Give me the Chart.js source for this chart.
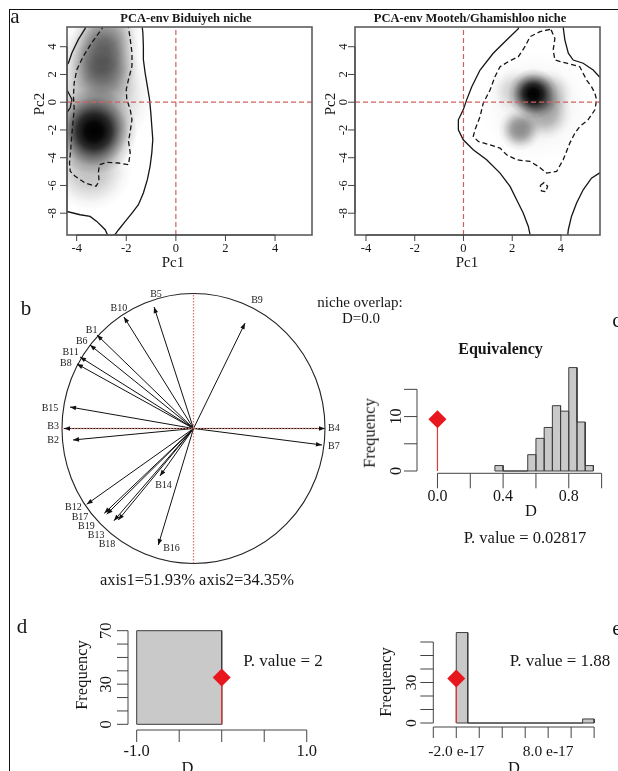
<!DOCTYPE html>
<html>
<head>
<meta charset="utf-8">
<title>Niche comparison: Biduiyeh vs Mooteh/Ghamishloo</title>
<script src="https://cdn.jsdelivr.net/npm/chart.js@4.4.1/dist/chart.umd.min.js"></script>
<style>
  html, body { margin: 0; padding: 0; background: #fff; }
  #page { position: relative; width: 618px; height: 771px; overflow: hidden;
          font-family: "Liberation Serif", "DejaVu Serif", serif; color: #161616; }
  #page canvas { position: absolute; left: 0; top: 0; }
  .frame { position: absolute; left: 9px; top: 9px; width: 700px; height: 800px;
           border-top: 1px solid #111; border-left: 1px solid #111; }
  .t { position: absolute; white-space: nowrap; line-height: 1; transform: translate(-50%, -50%); }
  .v { transform: translate(-50%, -50%) rotate(-90deg); }
  .b { font-weight: bold; }
</style>
</head>
<body>
<div id="page">
  <div class="frame"></div>
  <canvas id="pcaBid" width="618" height="771"></canvas>
  <canvas id="pcaMoo" width="618" height="771"></canvas>
  <canvas id="corCircle" width="618" height="771"></canvas>
  <canvas id="histEq" width="618" height="771"></canvas>
  <canvas id="histD" width="618" height="771"></canvas>
  <canvas id="histE" width="618" height="771"></canvas>

  <div class="t" style="left:15px;top:16px;font-size:21px">a</div>
  <div class="t b" style="left:186px;top:17.5px;font-size:12.5px">PCA-env Biduiyeh niche</div>
  <div class="t b" style="left:470px;top:17.5px;font-size:12.5px">PCA-env Mooteh/Ghamishloo niche</div>
  <div class="t" style="left:173px;top:262px;font-size:15px">Pc1</div>
  <div class="t" style="left:467px;top:262px;font-size:15px">Pc1</div>
  <div class="t v" style="left:39px;top:104px;font-size:15px">Pc2</div>
  <div class="t v" style="left:330px;top:104px;font-size:15px">Pc2</div>

  <div class="t" style="left:26px;top:308px;font-size:21px">b</div>
  <div class="t" style="left:360px;top:302px;font-size:15px">niche overlap:</div>
  <div class="t" style="left:361px;top:317.5px;font-size:15px">D=0.0</div>
  <div class="t" style="left:197px;top:579.5px;font-size:16.5px">axis1=51.93% axis2=34.35%</div>

  <div class="t" style="left:617px;top:320px;font-size:21px">c</div>
  <div class="t b" style="left:500.5px;top:348.5px;font-size:16px">Equivalency</div>
  <div class="t v" style="left:370px;top:433px;font-size:16.5px">Frequency</div>
  <div class="t" style="left:531px;top:511px;font-size:16.5px">D</div>
  <div class="t" style="left:525px;top:537.5px;font-size:16.5px">P. value = 0.02817</div>

  <div class="t" style="left:22px;top:626px;font-size:21px">d</div>
  <div class="t v" style="left:82px;top:675px;font-size:16.5px">Frequency</div>
  <div class="t" style="left:283px;top:660px;font-size:17px">P. value = 2</div>
  <div class="t" style="left:187.5px;top:768px;font-size:16.5px">D</div>

  <div class="t" style="left:617px;top:628px;font-size:21px">e</div>
  <div class="t v" style="left:385.5px;top:682px;font-size:16.5px">Frequency</div>
  <div class="t" style="left:560px;top:660px;font-size:17px">P. value = 1.88</div>
  <div class="t" style="left:514px;top:768px;font-size:16.5px">D</div>
</div>

<script>
const W = 618, H = 771;

// ---------- a: PCA-env niche densities ----------
const pcTicksX = [-4, -2, 0, 2, 4];
const pcTicksY = [-8, -6, -4, -2, 0, 2, 4];

// density peaks: centre (Pc1, Pc2), spread in Pc1 units, darkness 0..1
const bidPeakX = [-3.3, -3.0, -2.9, -3.1, -3.45, -2.75];
const bidPeakY = [-2.1, 3.4, 2.0, 0.4, -4.8, 5.1];
const bidPeakSpread = [1.75, 1.6, 1.5, 2.2, 1.7, 1.4];
const bidPeakDark = [1.0, 0.5, 0.3, 0.28, 0.24, 0.3];

const mooPeakX = [2.86, 3.5, 3.35, 2.32, 2.1, 3.0];
const mooPeakY = [0.6, 0.6, -0.8, -1.95, 0.8, -0.3];
const mooPeakSpread = [1.05, 1.0, 1.1, 0.9, 1.0, 2.3];
const mooPeakDark = [1.0, 0.25, 0.3, 0.42, 0.15, 0.07];

// contour lines (Pc1, Pc2)
const bidOuterRight = [[-1.37,5.6],[-1.33,5.01],[-1.31,4.04],[-1.31,3.08],[-1.24,2.12],[-1.15,1.16],[-1.06,0.19],[-1.01,-0.77],[-0.97,-1.73],[-0.93,-2.69],[-0.97,-3.65],[-1.04,-4.62],[-1.15,-5.58],[-1.31,-6.54],[-1.51,-7.39],[-1.77,-7.99],[-2.04,-8.59],[-2.31,-9.19],[-2.52,-9.7]];
const bidOuterBottom = [[-4.6,-7.85],[-4.4,-7.87],[-3.86,-8.11],[-3.46,-8.23],[-3.19,-8.59],[-2.85,-9.19],[-2.72,-9.7]];
const bidOuterTop = [[-3.62,5.6],[-3.66,5.3],[-3.93,4.53],[-4.19,3.57],[-4.33,2.84],[-4.6,2.3]];
const bidOuterBump = [[-4.6,1.1],[-4.4,0.92],[-4.19,0.19],[-4.26,-0.4],[-4.4,-0.77],[-4.6,-0.9]];
const bidInner = [[-2.92,5.6],[-2.98,5.3],[-3.39,4.29],[-3.73,3.32],[-3.99,2.36],[-4.1,1.4],[-4.13,0.43],[-4.1,-0.53],[-4.15,-1.49],[-4.2,-2.45],[-4.24,-3.42],[-4.29,-4.38],[-4.26,-4.98],[-4.06,-5.34],[-3.66,-5.82],[-3.22,-6.06],[-3.1,-5.7],[-3.12,-4.98],[-3.08,-4.5],[-2.78,-4.33],[-2.31,-4.38],[-1.91,-4.5],[-1.84,-3.65],[-1.91,-2.82],[-1.84,-2.09],[-1.77,-1.25],[-1.84,-0.53],[-1.98,0.19],[-2.0,0.92],[-1.91,1.64],[-1.77,2.6],[-1.77,3.57],[-1.84,4.53],[-1.91,5.37],[-1.93,5.6]];

const mooOuterMain = [[2.27,5.6],[2.25,5.3],[1.77,4.48],[1.22,3.53],[0.68,2.32],[0.34,1.12],[0.13,0.17],[-0.01,-0.55],[-0.21,-1.27],[-0.21,-1.99],[-0.01,-2.71],[0.4,-3.43],[0.95,-4.15],[1.5,-5.11],[1.91,-6.07],[2.18,-7.03],[2.45,-7.99],[2.66,-8.95],[2.75,-9.7]];
const mooOuterTop = [[4.08,5.6],[4.09,5.4],[4.16,4.48],[4.3,3.53],[4.5,3.04],[4.91,2.81],[5.32,2.32],[5.57,1.84],[5.75,1.7]];
const mooOuterBottom = [[5.75,-5.0],[5.57,-5.11],[5.25,-5.47],[4.91,-6.31],[4.64,-7.27],[4.43,-8.23],[4.3,-9.19],[4.27,-9.7]];
const mooInner = [[3.55,5.25],[3.14,5.08],[2.73,4.72],[2.52,4.0],[2.25,3.28],[1.84,2.92],[1.5,2.56],[1.29,1.84],[1.09,0.88],[0.81,-0.07],[0.68,-1.04],[0.47,-1.99],[0.4,-2.47],[0.61,-2.83],[1.22,-3.14],[1.5,-3.31],[1.77,-3.79],[2.18,-4.15],[2.73,-4.27],[3.07,-4.63],[3.41,-5.11],[3.82,-4.99],[4.09,-4.15],[4.36,-2.95],[4.57,-2.23],[4.77,-1.75],[5.11,-1.27],[5.39,-0.55],[5.46,0.17],[5.39,0.65],[5.25,1.12],[5.05,1.6],[4.77,2.56],[4.23,2.81],[3.75,3.04],[3.68,3.76],[3.75,4.6],[3.61,5.15],[3.55,5.25]];
const mooInnerIsland = [[3.15,-6.0],[3.3,-5.8],[3.45,-6.05],[3.38,-6.45],[3.2,-6.4],[3.15,-6.0]];

// ---------- b: correlation circle ----------
const varNames = ['B1','B2','B3','B4','B5','B6','B7','B8','B9','B10','B11','B12','B13','B14','B15','B16','B17','B18','B19'];
const varAxis1 = [-0.734,-0.916,-0.985,1.0,-0.30,-0.787,0.977,-0.886,0.392,-0.529,-0.863,-0.812,-0.572,-0.255,-0.939,-0.268,-0.678,-0.66,-0.605];
const varAxis2 = [0.693,-0.085,0.0,0.0,0.90,0.619,-0.122,0.478,0.781,0.826,0.53,-0.561,-0.678,-0.352,0.159,-0.863,-0.628,-0.635,-0.683];
const varLabelAxis1 = [-0.775,-1.068,-1.068,1.068,-0.285,-0.85,1.068,-0.97,0.483,-0.567,-0.935,-0.913,-0.741,-0.228,-1.091,-0.167,-0.863,-0.658,-0.814];
const varLabelAxis2 = [0.724,-0.09,0.013,0.0,0.996,0.643,-0.13,0.485,0.947,0.893,0.561,-0.581,-0.789,-0.419,0.15,-0.885,-0.656,-0.856,-0.722];

// ---------- c: equivalency test ----------
const eqBreaks = [0.35,0.40,0.45,0.50,0.55,0.60,0.65,0.70,0.75,0.80,0.85,0.90,0.95];
const eqCounts = [1,0,0,0,3,6,8,12,11,19,9,1];
const eqObserved = 0.0, eqObservedY = 9.5;
const eqTicksX = [0, 0.2, 0.4, 0.6, 0.8, 1.0];
const eqLabelsX = ['0.0', '', '0.4', '', '0.8', ''];
const eqTicksY = [0, 5, 10, 15];
const eqLabelsY = ['0', '', '10', ''];

// ---------- d ----------
const dBreaks = [-1, 0];
const dCounts = [70];
const dObserved = 0, dObservedY = 35;
const dTicksX = [-1, -0.5, 0, 0.5, 1];
const dLabelsX = ['-1.0', '', '', '', '1.0'];
const dTicksY = [0, 10, 20, 30, 40, 50, 60, 70];
const dLabelsY = ['0', '', '', '30', '', '', '', '70'];

// ---------- e (D in units of 1e-17) ----------
const eBreaks = [-2,-0.75,0.5,1.75,3,4.25,5.5,6.75,8,9.25,10.5,11.75,13];
const eCounts = [67,0,0,0,0,0,0,0,0,0,0,3];
const eObserved = -2, eObservedY = 33;
const eTicksX = [-4.5, -2, 0.5, 3, 5.5, 8, 10.5, 13];
const eLabelsX = ['', '-2.0 e-17', '', '', '', '8.0 e-17', '', ''];
const eTicksY = [0, 10, 20, 30, 40, 50, 60];
const eLabelsY = ['0', '', '', '30', '', '', ''];

// ================= helpers =================
const SERIF = '"Liberation Serif", "DejaVu Serif", serif';
const RED = '#e8171d';

function pts(pairs) { return pairs.map(([x, y]) => ({ x, y })); }

function line(pairs, color, width, dash, order) {
  return { data: pts(pairs), showLine: true, borderColor: color, borderWidth: width,
           borderDash: dash || [], pointRadius: 0, fill: false, clip: 0, order: order || 0 };
}

const PROFILE = [[0, 1], [0.2, 0.97], [0.4, 0.8], [0.6, 0.45], [0.8, 0.14], [1, 0]];
function unitPx(scale) { return scale.getPixelForValue(1) - scale.getPixelForValue(0); }

function densityLayer(px, py, spread, dark) {
  return {
    data: px.map((x, i) => ({ x, y: py[i] })),
    order: 9, clip: 0, pointStyle: 'circle', pointBorderWidth: 0,
    pointRadius: c => {
      if (c.dataIndex === undefined) return 0;
      const r = spread[c.dataIndex] * unitPx(c.chart.scales.x);
      return isFinite(r) ? r : 0;
    },
    pointBackgroundColor: c => {
      if (c.dataIndex === undefined || !c.raw) return 'rgba(0,0,0,0)';
      const sx = c.chart.scales.x, sy = c.chart.scales.y;
      const cx = sx.getPixelForValue(c.raw.x), cy = sy.getPixelForValue(c.raw.y);
      const r = spread[c.dataIndex] * unitPx(sx);
      if (![cx, cy, r].every(isFinite) || r <= 0) return 'rgba(0,0,0,0)';
      const g = c.chart.ctx.createRadialGradient(cx, cy, 0, cx, cy, r);
      PROFILE.forEach(([s, k]) => g.addColorStop(s, `rgba(0,0,0,${(dark[c.dataIndex] * k).toFixed(3)})`));
      return g;
    }
  };
}

function histOutline(breaks, counts) {
  const out = [];
  counts.forEach((n, i) => out.push([breaks[i], 0], [breaks[i], n], [breaks[i + 1], n], [breaks[i + 1], 0]));
  return out;
}

function histDatasets(breaks, counts, obsX, obsY) {
  return [
    { data: pts(histOutline(breaks, counts)), showLine: true, fill: 'origin',
      backgroundColor: '#c9c9c9', borderColor: '#3c3c3c', borderWidth: 1,
      pointRadius: 0, clip: false, order: 3 },
    line([[breaks[0], 0], [breaks[breaks.length - 1], 0]], '#3c3c3c', 1, null, 2),
    line([[obsX, 0], [obsX, obsY]], '#e03a36', 1.2, null, 1),
    { data: [{ x: obsX, y: obsY }], pointStyle: 'rectRot', pointRadius: 9,
      pointBackgroundColor: RED, pointBorderWidth: 0, clip: false, order: 0 }
  ];
}

// R-like axes: lines only across the tick range, outward ticks, y labels rotated
function rAxes(cfg) {
  return {
    id: 'rAxes',
    afterDraw(chart) {
      const { ctx, chartArea: a, scales } = chart;
      ctx.save();
      if (cfg.box) {
        ctx.strokeStyle = '#5c5c5c'; ctx.lineWidth = 1.6;
        ctx.strokeRect(a.left, a.top, a.right - a.left, a.bottom - a.top);
      }
      ctx.strokeStyle = '#444'; ctx.fillStyle = '#151515'; ctx.lineWidth = 1;
      ctx.font = cfg.font; ctx.textAlign = 'center'; ctx.textBaseline = 'middle';

      const xs = cfg.xTicks.map(v => scales.x.getPixelForValue(v));
      const yb = a.bottom;
      ctx.beginPath();
      ctx.moveTo(xs[0], yb); ctx.lineTo(xs[xs.length - 1], yb);
      xs.forEach(p => { ctx.moveTo(p, yb); ctx.lineTo(p, yb + cfg.xTick); });
      ctx.stroke();
      cfg.xLabels.forEach((t, i) => { if (t) ctx.fillText(t, xs[i], yb + cfg.xLab); });

      const ys = cfg.yTicks.map(v => scales.y.getPixelForValue(v));
      const xl = a.left;
      ctx.beginPath();
      ctx.moveTo(xl, ys[0]); ctx.lineTo(xl, ys[ys.length - 1]);
      ys.forEach(p => { ctx.moveTo(xl, p); ctx.lineTo(xl - cfg.yTick, p); });
      ctx.stroke();
      cfg.yLabels.forEach((t, i) => {
        if (!t) return;
        ctx.save(); ctx.translate(xl - cfg.yLab, ys[i]); ctx.rotate(-Math.PI / 2);
        ctx.fillText(t, 0, 0); ctx.restore();
      });
      ctx.restore();
    }
  };
}

function makeChart(id, box, xr, yr, datasets, plugins) {
  return new Chart(document.getElementById(id), {
    type: 'scatter',
    data: { datasets },
    options: {
      responsive: false, animation: false, events: [],
      layout: { padding: { left: box[0], top: box[1], right: W - box[2], bottom: H - box[3] } },
      scales: {
        x: { type: 'linear', display: false, min: xr[0], max: xr[1] },
        y: { type: 'linear', display: false, min: yr[0], max: yr[1] }
      },
      plugins: { legend: { display: false }, tooltip: { enabled: false } }
    },
    plugins
  });
}

// ================= panel a =================
function pcaPanel(id, box, xr, yr, peaks, contours, yLab) {
  const dashRed = '#d2605a';
  const ds = [
    densityLayer(...peaks),
    ...contours.solid.map(c => line(c, '#151515', 1.3, null, 2)),
    ...contours.dashed.map(c => line(c, '#151515', 1.3, [5, 3], 2)),
    line([[xr[0], 0], [xr[1], 0]], dashRed, 1.2, [5, 3], 0),
    line([[0, yr[0]], [0, yr[1]]], dashRed, 1.2, [5, 3], 0)
  ];
  const axes = rAxes({
    box: true, font: `12.5px ${SERIF}`,
    xTicks: pcTicksX, xLabels: pcTicksX.map(String), xTick: 6, xLab: 13.5,
    yTicks: pcTicksY, yLabels: pcTicksY.map(String), yTick: 7, yLab
  });
  makeChart(id, box, xr, yr, ds, [axes]);
}

pcaPanel('pcaBid', [67, 27, 312, 235], [-4.39, 5.49], [-9.57, 5.42],
  [bidPeakX, bidPeakY, bidPeakSpread, bidPeakDark],
  { solid: [bidOuterRight, bidOuterBottom, bidOuterTop, bidOuterBump], dashed: [bidInner] }, 14);

pcaPanel('pcaMoo', [355, 27, 600, 235], [-4.45, 5.6], [-9.57, 5.42],
  [mooPeakX, mooPeakY, mooPeakSpread, mooPeakDark],
  { solid: [mooOuterMain, mooOuterTop, mooOuterBottom], dashed: [mooInner, mooInnerIsland] }, 11.5);

// ================= panel b =================
const corPlugin = {
  id: 'corDecor',
  beforeDatasetsDraw(chart) {
    const { ctx, scales: { x, y } } = chart;
    const cx = x.getPixelForValue(0), cy = y.getPixelForValue(0);
    ctx.save();
    ctx.strokeStyle = '#222'; ctx.lineWidth = 1.1;
    ctx.beginPath();
    ctx.ellipse(cx, cy, x.getPixelForValue(1) - cx, cy - y.getPixelForValue(1), 0, 0, Math.PI * 2);
    ctx.stroke();
    ctx.restore();
  },
  afterDatasetsDraw(chart) {
    const { ctx, scales: { x, y } } = chart;
    const ox = x.getPixelForValue(0), oy = y.getPixelForValue(0);
    ctx.save();
    ctx.fillStyle = '#111';
    varAxis1.forEach((v, i) => {
      const tx = x.getPixelForValue(v), ty = y.getPixelForValue(varAxis2[i]);
      const ang = Math.atan2(ty - oy, tx - ox), L = 6, w = 2.3;
      const bx = tx - L * Math.cos(ang), by = ty - L * Math.sin(ang);
      ctx.beginPath();
      ctx.moveTo(tx, ty);
      ctx.lineTo(bx - w * Math.sin(ang), by + w * Math.cos(ang));
      ctx.lineTo(bx + w * Math.sin(ang), by - w * Math.cos(ang));
      ctx.closePath(); ctx.fill();
    });
    ctx.font = `10px ${SERIF}`; ctx.textAlign = 'center'; ctx.textBaseline = 'middle';
    ctx.fillStyle = '#1a1a1a';
    varNames.forEach((n, i) => ctx.fillText(n, x.getPixelForValue(varLabelAxis1[i]), y.getPixelForValue(varLabelAxis2[i])));
    ctx.restore();
  }
};

const arrowData = varAxis1.flatMap((v, i) => [{ x: 0, y: 0 }, { x: v, y: varAxis2[i] }, { x: null, y: null }]);
makeChart('corCircle', [62, 293.5, 325, 563.5], [-1, 1], [-1, 1], [
  { data: arrowData, showLine: true, spanGaps: false, borderColor: '#111', borderWidth: 1,
    pointRadius: 0, clip: false, order: 1 },
  line([[-1, 0], [1, 0]], '#cf7a6c', 1.3, [1.5, 1.5], 0),
  line([[0, -1], [0, 1]], '#cf7a6c', 1.3, [1.5, 1.5], 0)
], [corPlugin]);

// ================= panel c =================
makeChart('histEq', [417, 350, 617, 473.3], [-0.1246, 1.045], [-0.42, 22.23],
  histDatasets(eqBreaks, eqCounts, eqObserved, eqObservedY),
  [rAxes({ font: `16px ${SERIF}`,
    xTicks: eqTicksX, xLabels: eqLabelsX, xTick: 15, xLab: 23.5,
    yTicks: eqTicksY, yLabels: eqLabelsY, yTick: 13, yLab: 20 })]);

// ================= panel d =================
makeChart('histD', [128, 620, 320, 730], [-1.102, 1.156], [-4.26, 78],
  histDatasets(dBreaks, dCounts, dObserved, dObservedY),
  [rAxes({ font: `16.5px ${SERIF}`,
    xTicks: dTicksX, xLabels: dLabelsX, xTick: 12, xLab: 22,
    yTicks: dTicksY, yLabels: dLabelsY, yTick: 11, yLab: 21.5 })]);

// ================= panel e =================
makeChart('histE', [433.3, 625, 610, 727], [-4.5, 14.62], [-2.96, 72.6],
  histDatasets(eBreaks, eCounts, eObserved, eObservedY),
  [rAxes({ font: `15.5px ${SERIF}`,
    xTicks: eTicksX, xLabels: eLabelsX, xTick: 11, xLab: 24.5,
    yTicks: eTicksY, yLabels: eLabelsY, yTick: 13, yLab: 21.5 })]);
</script>
</body>
</html>
